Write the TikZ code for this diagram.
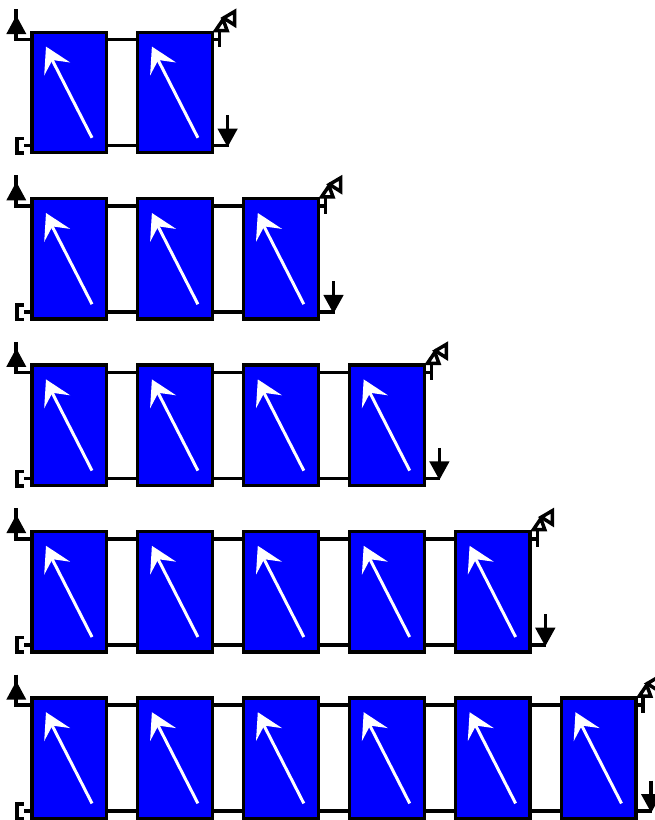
\documentclass[tikz,border=0pt]{standalone}
\begin{document}
\begin{tikzpicture}[x=1pt,y=-1pt,
  panel/.style={draw=black,fill=blue,line width=3.3pt,minimum width=74.6pt,minimum height=120.4pt,inner sep=0pt,outer sep=0pt},
  pipe/.style={line width=3.5pt,black,line cap=butt,line join=miter},
  hollow/.style={draw=black,fill=white,line width=3.5pt,line join=miter}]
\useasboundingbox (0,0) rectangle (654,820);
\foreach \r/\n in {0/2,1/3,2/4,3/5,4/6}{
  \pgfmathsetmacro{\yy}{\r*166.4}
  \begin{scope}[yshift=-\yy pt]
    % left end
    \draw[pipe] (16,9) -- (16,39.6) -- (31,39.6);
    \fill[black] (16.3,15.5) -- (26.3,34) -- (6.3,34) -- cycle;
    \draw[pipe] (31,145.6) -- (23.5,145.6);
    \draw[pipe] (24,138.5) -- (17,138.5) -- (17,153) -- (24,153);
    \pgfmathtruncatemacro{\last}{\n-1}
    \pgfmathsetmacro{\xe}{69.2+105.9*\last+37.5}
    % pipes
    \draw[pipe] (69,39.6) -- (\xe+7.5,39.6);
    \draw[pipe] (69,145.6) -- (\xe+16,145.6);
    \foreach \i in {0,...,\last}{
      \pgfmathsetmacro{\xc}{69.2+105.9*\i}
      \node[panel] (p\r\i) at (\xc,92.5) {};
      \draw[white,line width=3pt] (\xc-18,58) -- (\xc+22.8,137.8);
      \fill[white] (\xc-23.2,46.6) -- (\xc+1,62.5) -- (\xc-16.8,60) -- (\xc-25,75.5) -- cycle;
    }
    % outlet down arrow
    \draw[pipe] (\xe+15,115) -- (\xe+15,130);
    \fill[black] (\xe+15,147) -- (\xe+4.8,128.5) -- (\xe+25.2,128.5) -- cycle;
    % valve
    \begin{scope}[shift={(\xe,0)}]
      \draw[pipe] (7,30) -- (7,47.3);
      \draw[hollow] (3,30.5) -- (10.5,19.5) -- (14.5,30.5) -- cycle;
      \draw[hollow] (22,11.5) -- (22,25) -- (11,18) -- cycle;
    \end{scope}
  \end{scope}
}
\end{tikzpicture}
\end{document}
